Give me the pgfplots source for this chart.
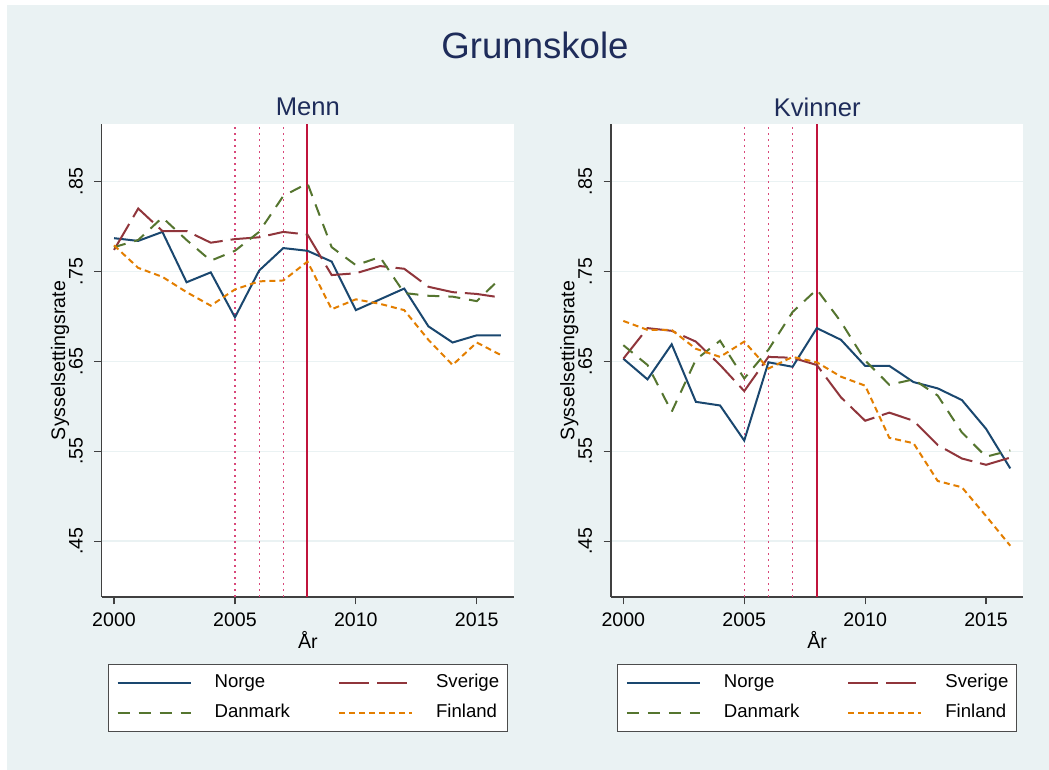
\documentclass[border=0pt]{standalone}
\usepackage{fontspec}
\setmainfont{Liberation Sans}
\usepackage{pgfplots}
\pgfplotsset{compat=1.18}
\usepackage{pgfplotstable}

\definecolor{bg}{HTML}{EAF2F3}
\definecolor{norge}{HTML}{1A476F}
\definecolor{sverige}{HTML}{90353B}
\definecolor{danmark}{HTML}{55752F}
\definecolor{finland}{HTML}{E37E00}
\definecolor{ttl}{HTML}{1E2C5A}
\definecolor{vdotcol}{HTML}{D9487A}
\definecolor{vsolidcol}{HTML}{C0143C}

% Menn
\pgfplotstableread{
year norge sverige danmark finland
2000 0.787 0.774 0.777 0.779
2001 0.784 0.820 0.785 0.754
2002 0.794 0.795 0.810 0.744
2003 0.738 0.795 0.785 0.727
2004 0.749 0.782 0.762 0.712
2005 0.699 0.786 0.773 0.730
2006 0.751 0.788 0.794 0.739
2007 0.776 0.794 0.834 0.740
2008 0.773 0.791 0.848 0.761
2009 0.761 0.746 0.777 0.708
2010 0.707 0.748 0.757 0.719
2011 0.719 0.756 0.766 0.714
2012 0.731 0.753 0.726 0.707
2013 0.689 0.733 0.723 0.674
2014 0.671 0.727 0.722 0.646
2015 0.679 0.725 0.717 0.671
2016 0.679 0.721 0.743 0.657
}\menn

% Kvinner
\pgfplotstableread{
year norge sverige danmark finland
2000 0.653 0.653 0.668 0.695
2001 0.630 0.687 0.646 0.685
2002 0.669 0.684 0.594 0.685
2003 0.605 0.672 0.652 0.664
2004 0.601 0.646 0.673 0.655
2005 0.562 0.617 0.631 0.672
2006 0.649 0.655 0.663 0.642
2007 0.644 0.654 0.705 0.655
2008 0.687 0.646 0.730 0.649
2009 0.674 0.610 0.694 0.633
2010 0.645 0.584 0.651 0.623
2011 0.645 0.593 0.624 0.565
2012 0.627 0.584 0.630 0.559
2013 0.620 0.557 0.612 0.517
2014 0.607 0.542 0.571 0.510
2015 0.575 0.535 0.544 0.478
2016 0.531 0.543 0.551 0.445
}\kvinner

\pgfplotsset{
  panel/.style={
    scale only axis, width=206.15pt, height=236.5pt,
    xmin=1999.49, xmax=2016.54, ymin=0.388, ymax=0.914,
    axis x line*=bottom, axis y line*=left,
    axis line style={-, color=black!75, line width=0.6pt},
    every outer x axis line/.append style={-},
    every outer y axis line/.append style={-},
    tick align=outside, major tick length=3.75pt,
    tick style={color=black!75, line width=0.6pt},
    xtick={2000,2005,2010,2015}, ytick={0.45,0.55,0.65,0.75,0.85},
    minor tick num=0,
    ymajorgrids, grid style={color=bg, line width=0.8pt},
    axis background/.style={fill=white},
    tick label style={font=\fontsize{9.8pt}{11pt}\selectfont},
    xticklabel style={inner sep=4pt, /pgf/number format/1000 sep={},
      /pgf/number format/assume math mode=true},
    yticklabel style={rotate=90, anchor=south, inner sep=5.5pt,
      /pgf/number format/.cd, fixed, fixed zerofill, precision=2,
      skip 0.=true, assume math mode=true},
    xlabel={År}, ylabel={Sysselsettingsrate},
    label style={font=\fontsize{9.8pt}{11pt}\selectfont},
    xlabel style={at={(axis description cs:0.5,-0.091)}, anchor=center},
    ylabel style={at={(axis description cs:-0.101,0.5)}, anchor=center},
    legend columns=2,
    legend style={at={(0.5,-0.141)}, anchor=north, draw=black!70,
      line width=0.5pt, fill=white, inner xsep=4.2pt, inner ysep=4.75pt,
      row sep=6pt,
      nodes={inner sep=0pt, text height=7pt, text depth=2pt,
        font=\fontsize{9.3pt}{11pt}\selectfont},
      /tikz/column 1/.style={column sep=11.5pt},
      /tikz/column 2/.style={column sep=24pt},
      /tikz/column 3/.style={column sep=11.5pt}},
    legend cell align=left,
    legend image code/.code={\draw[##1] (0pt,0pt) -- (36.5pt,0pt);},
  },
  vdotline/.style={vdotcol, line width=0.6pt, dash pattern=on 1pt off 2pt, forget plot},
  vsolidline/.style={vsolidcol, line width=1pt, forget plot},
  pn/.style={norge, line width=1pt},
  ps/.style={sverige, line width=1pt, dash pattern=on 15pt off 4pt},
  pd/.style={danmark, line width=1pt, dash pattern=on 6pt off 4.5pt},
  pf/.style={finland, line width=1pt, dash pattern=on 3pt off 2pt},
}

\begin{document}
\begin{tikzpicture}
\fill[white] (0,0) rectangle (524.5pt,385pt);
\fill[bg] (3.5pt,0) rectangle (524.5pt,382.5pt);

\node[font=\fontsize{18.3pt}{21pt}\selectfont, text=ttl] at (267.5pt,362.5pt) {Grunnskole};
\node[font=\fontsize{12.8pt}{15pt}\selectfont, text=ttl] at (153.9pt,331.5pt) {Menn};
\node[font=\fontsize{12.8pt}{15pt}\selectfont, text=ttl] at (408.6pt,331.5pt) {Kvinner};

\begin{axis}[panel, at={(50.85pt,86.5pt)}, anchor=south west]
\addplot[vdotline] coordinates {(2005,0.388) (2005,0.914)};
\addplot[vdotline] coordinates {(2006,0.388) (2006,0.914)};
\addplot[vdotline] coordinates {(2007,0.388) (2007,0.914)};
\addplot[vsolidline] coordinates {(2008,0.388) (2008,0.914)};
\addplot[pn] table[x=year, y=norge] {\menn};
\addlegendentry{Norge}
\addplot[ps] table[x=year, y=sverige] {\menn};
\addlegendentry{Sverige}
\addplot[pd] table[x=year, y=danmark] {\menn};
\addlegendentry{Danmark}
\addplot[pf] table[x=year, y=finland] {\menn};
\addlegendentry{Finland}
\end{axis}

\begin{axis}[panel, at={(305.5pt,86.5pt)}, anchor=south west]
\addplot[vdotline] coordinates {(2005,0.388) (2005,0.914)};
\addplot[vdotline] coordinates {(2006,0.388) (2006,0.914)};
\addplot[vdotline] coordinates {(2007,0.388) (2007,0.914)};
\addplot[vsolidline] coordinates {(2008,0.388) (2008,0.914)};
\addplot[pn] table[x=year, y=norge] {\kvinner};
\addlegendentry{Norge}
\addplot[ps] table[x=year, y=sverige] {\kvinner};
\addlegendentry{Sverige}
\addplot[pd] table[x=year, y=danmark] {\kvinner};
\addlegendentry{Danmark}
\addplot[pf] table[x=year, y=finland] {\kvinner};
\addlegendentry{Finland}
\end{axis}
\end{tikzpicture}
\end{document}
